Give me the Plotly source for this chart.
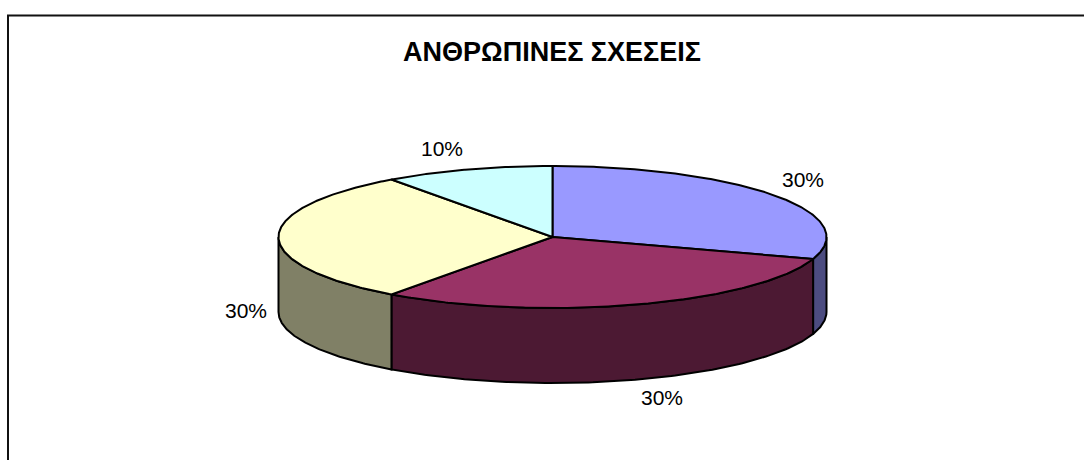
import numpy as np
import plotly.graph_objects as go

TITLE = "ΑΝΘΡΩΠΙΝΕΣ ΣΧΕΣΕΙΣ"
CATEGORIES = ["Α", "Β", "Γ", "Δ"]
VALUES = [30, 30, 30, 10]
TOP_COLORS = ["#9999FF", "#993366", "#FFFFCC", "#CCFFFF"]
WALL_COLORS = ["#4C4C80", "#4C1933", "#808066", "#668080"]
LABEL_SHIFTS = [(29, -16), (25, 93), (-33, 73), (-26, -21)]

W, H = 1084, 460
CX, CY, RX, RY, DEPTH = 552.5, 237, 274, 71, 75
INK = "#000000"
FONT = "Liberation Sans, Arial, sans-serif"


def rim(deg, drop=0):
    t = np.radians(deg)
    return CX + RX * np.sin(t), CY - RY * np.cos(t) + drop


fig = go.Figure()
total = sum(VALUES)
edges = np.concatenate([[0], np.cumsum(VALUES) / total * 360])


def add_poly(xs, ys, color):
    fig.add_trace(go.Scatter(
        x=xs, y=ys, mode="lines", fill="toself", fillcolor=color,
        line=dict(color=INK, width=2), hoverinfo="skip", showlegend=False))


# Side walls: only the front half of the cylinder (90..270 degrees) shows
for i in range(len(VALUES)):
    a0, a1 = max(edges[i], 90), min(edges[i + 1], 270)
    if a1 <= a0:
        continue
    arc = np.linspace(a0, a1, 120)
    xt, yt = rim(arc)
    xb, yb = rim(arc[::-1], DEPTH)
    add_poly(np.r_[xt, xb, xt[0]], np.r_[yt, yb, yt[0]], WALL_COLORS[i])

# Top faces
for i in range(len(VALUES)):
    arc = np.linspace(edges[i], edges[i + 1], 200)
    xt, yt = rim(arc)
    add_poly(np.r_[CX, xt, CX], np.r_[CY, yt, CY], TOP_COLORS[i])

annotations = [dict(
    x=552, y=52, text=f"<b>{TITLE}</b>", showarrow=False,
    font=dict(family=FONT, size=27, color="#000"),
    xanchor="center", yanchor="middle")]
for i, v in enumerate(VALUES):
    mid = (edges[i] + edges[i + 1]) / 2
    x, y = rim(mid)
    dx, dy = LABEL_SHIFTS[i]
    annotations.append(dict(
        x=x, y=y, xshift=dx, yshift=-dy, text=f"{round(v / total * 100)}%",
        showarrow=False, xanchor="center", yanchor="middle",
        font=dict(family=FONT, size=21, color="#000")))

fig.update_layout(
    width=W, height=H, margin=dict(l=0, r=0, t=0, b=0),
    paper_bgcolor="#FFFFFF", plot_bgcolor="#FFFFFF",
    xaxis=dict(range=[0, W], visible=False, fixedrange=True),
    yaxis=dict(range=[H, 0], visible=False, fixedrange=True),
    annotations=annotations,
    shapes=[dict(type="path", path=f"M 8,{H} L 8,15.5 L {W},15.5",
                 line=dict(color="#111111", width=2))],
)
fig.write_html("out.html", config={"displayModeBar": False},
               post_script="document.body.style.margin='0';document.body.style.overflow='hidden';")
